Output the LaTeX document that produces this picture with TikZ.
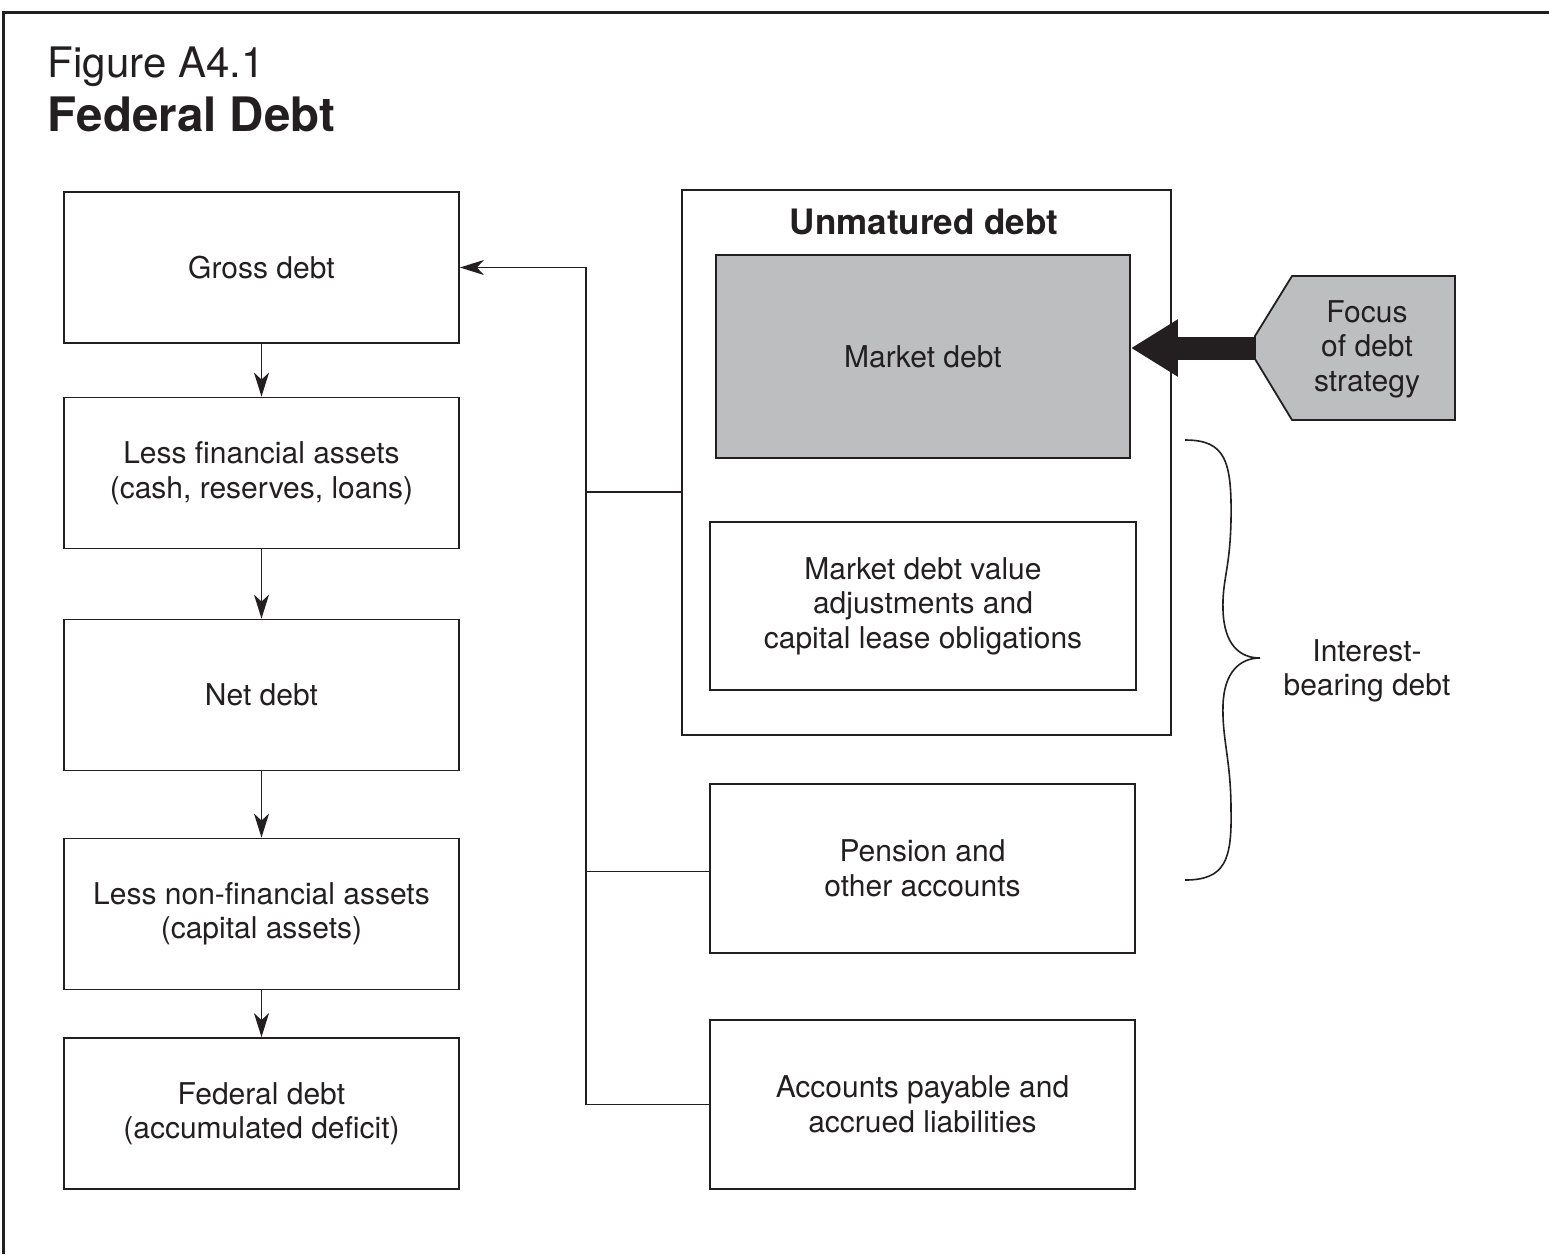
\documentclass[tikz,border=0pt]{standalone}
\usepackage{fontspec}
\setmainfont{TeX Gyre Heros}
\usepackage{xcolor}
\usetikzlibrary{arrows.meta,positioning}
\definecolor{inkdark}{HTML}{231F20}
\definecolor{fillgray}{HTML}{BCBEC0}

\begin{document}
\begin{tikzpicture}[
  x=1pt, y=-1pt,
  >={Stealth[length=24pt,width=15pt,inset=7pt]},
  line width=1.6pt,
  every node/.style={text=inkdark},
  debtbox/.style={rectangle, draw=inkdark, line width=1.8pt, minimum width=395pt, minimum height=151pt, align=center, inner sep=0pt, font=\fontsize{30}{34.5}\selectfont},
  rightbox/.style={debtbox, minimum width=425pt, minimum height=169pt},
  flow/.style={->, draw=inkdark, line width=1.6pt}
]
  \useasboundingbox (0,0) rectangle (1549,1254);
  % frame and title
  \draw[inkdark, line width=3pt] (1549,12.5) -- (3.5,12.5) -- (3.5,1254);
  \node[anchor=base west, inner sep=0pt, font=\fontsize{42}{42}\selectfont] (figno) at (47,77) {Figure A4.1};
  \node[anchor=base west, inner sep=0pt, font=\fontsize{47.5}{47.5}\selectfont\bfseries] (figtitle) at (47,131) {Federal Debt};

  % left column
  \node[debtbox] (gross)   at (261.5,267.5) {Gross debt};
  \node[debtbox] (lessfin) at (261.5,473)   {Less financial assets\\(cash, reserves, loans)};
  \node[debtbox] (net)     at (261.5,695)   {Net debt};
  \node[debtbox] (lessnon) at (261.5,914)   {Less non-financial assets\\(capital assets)};
  \node[debtbox] (feddebt) at (261.5,1113.5) {Federal debt\\(accumulated deficit)};
  \foreach \a/\b in {gross/lessfin, lessfin/net, net/lessnon, lessnon/feddebt}
    \draw[flow] (\a) -- (\b);

  % right column
  \node[debtbox, minimum width=489pt, minimum height=545pt] (unmat) at (926.5,462.5) {};
  \node[inner sep=0pt, font=\fontsize{35}{35}\selectfont\bfseries] (unmatlbl) at (924,222) {Unmatured debt};
  \node[debtbox, fill=fillgray, minimum width=414pt, minimum height=203pt] (mkt) at (923,356.5) {Market debt};
  \node[rightbox, minimum width=426pt, minimum height=168pt] (mktadj) at (923,606) {Market debt value\\adjustments and\\capital lease obligations};
  \node[rightbox] (pension) at (922.5,868.5) {Pension and\\other accounts};
  \node[rightbox] (accpay)  at (922.5,1104.5) {Accounts payable and\\accrued liabilities};

  % links to gross debt
  \draw[flow] (accpay.west) -- ++(-123,0) |- (gross.east);
  \draw[inkdark] ([yshift=-3pt]pension.west) -- ++(-123,0);
  \draw[inkdark] ([yshift=-29.5pt]unmat.west) -- ++(-95,0);

  % focus of debt strategy
  \draw[inkdark, fill=fillgray, line width=1.8pt] (1292,276) -- (1455,276) -- (1455,420) -- (1292,420) -- (1255,359) -- (1255,336) -- cycle;
  \coordinate (focustip) at (1256,348);
  \node[align=center, inner sep=0pt, font=\fontsize{30}{34.5}\selectfont] (focus) at (1367,349) {Focus\\of debt\\strategy};
  \draw[inkdark, line width=23pt, -{Triangle[length=47pt,width=54pt]}] (focustip) -- (focustip -| mkt.east);

  % interest-bearing brace
  \draw[inkdark, line width=1.6pt] (1185,440) .. controls (1225,440) and (1232,460) .. (1231,520)
    .. controls (1230,570) and (1222,580) .. (1223,610)
    .. controls (1224,645) and (1240,658) .. (1260,658)
    .. controls (1240,658) and (1224,672) .. (1223,705)
    .. controls (1222,740) and (1231,760) .. (1231,810)
    .. controls (1232,860) and (1225,880) .. (1185,880);
  \node[align=center, inner sep=0pt, font=\fontsize{30}{34.5}\selectfont] (interest) at (1367,671) {Interest-\\bearing debt};
\end{tikzpicture}
\end{document}
